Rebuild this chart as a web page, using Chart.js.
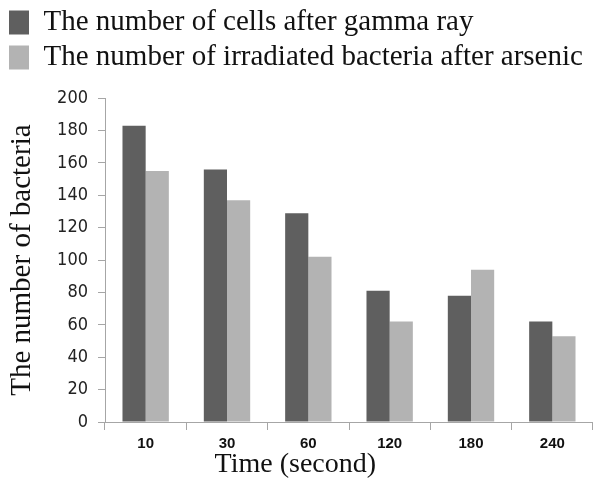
<!DOCTYPE html>
<html>
<head>
<meta charset="utf-8">
<script src="https://cdn.jsdelivr.net/npm/chart.js@4"></script>
<style>
  html, body { margin: 0; padding: 0; background: #ffffff; }
  #wrap { width: 593px; height: 479px; }
</style>
</head>
<body>
<div id="wrap"><canvas id="c" width="593" height="479"></canvas></div>
<script>
const categories = ['10', '30', '60', '120', '180', '240'];
const seriesNames = ['The number of cells after gamma ray', 'The number of irradiated bacteria after arsenic'];
const gammaValues = [183, 156, 129, 81, 78, 62];
const arsenicValues = [155, 137, 102, 62, 94, 53];
const yTicks = [0, 20, 40, 60, 80, 100, 120, 140, 160, 180, 200];
const xTitle = 'Time (second)';
const yTitle = 'The number of bacteria';

const serif = '"Liberation Serif", "Times New Roman", serif';
const sans = '"Liberation Sans Narrow", "DejaVu Sans Condensed", "Liberation Sans", sans-serif';

const xTitlePlugin = {
  id: 'xTitlePlugin',
  afterDraw(chart) {
    const ctx = chart.ctx;
    const a = chart.chartArea;
    ctx.save();
    ctx.font = '28px ' + serif;
    ctx.fillStyle = '#111';
    ctx.textAlign = 'center';
    ctx.textBaseline = 'middle';
    ctx.fillText(xTitle, a.left + (a.right - a.left) * 0.39, 465);
    ctx.restore();
  }
};

new Chart(document.getElementById('c'), {
  type: 'bar',
  data: {
    labels: categories,
    datasets: [
      { label: seriesNames[0], data: gammaValues, backgroundColor: '#5f5f5f', borderWidth: 0 },
      { label: seriesNames[1], data: arsenicValues, backgroundColor: '#b3b3b3', borderWidth: 0 }
    ]
  },
  plugins: [xTitlePlugin],
  options: {
    responsive: false,
    animation: false,
    layout: { padding: { left: 3, right: 0, top: 2, bottom: 0 } },
    datasets: { bar: { categoryPercentage: 0.57, barPercentage: 1.0 } },
    plugins: {
      tooltip: { enabled: false },
      legend: {
        position: 'top',
        align: 'start',
        labels: {
          font: { family: serif, size: 29 },
          color: '#111',
          boxWidth: 20,
          boxHeight: 24,
          padding: 6
        }
      },
      subtitle: {
        display: true,
        text: '',
        weight: 500,
        font: { size: 1 },
        padding: { top: 0, bottom: 15 }
      }
    },
    scales: {
      x: {
        grid: { display: true, offset: true, drawOnChartArea: false, color: '#a6a6a6', tickLength: 8 },
        border: { color: '#a6a6a6' },
        ticks: { font: { family: '"Liberation Sans", sans-serif', size: 15, weight: 'bold' }, color: '#111', padding: 5 },
        afterFit(scale) { scale.height = 57; }
      },
      y: {
        min: 0,
        max: 200,
        afterBuildTicks(scale) { scale.ticks = yTicks.map(v => ({ value: v })); },
        grid: { display: true, drawOnChartArea: false, color: '#a6a6a6', tickLength: 7 },
        border: { color: '#a6a6a6' },
        ticks: { font: { family: sans, size: 18 }, color: '#222', padding: 10 },
        title: {
          display: true,
          text: yTitle,
          font: { family: serif, size: 29 },
          color: '#111',
          padding: { top: 2, bottom: 0 }
        },
        afterFit(scale) { scale.width = 102; }
      }
    }
  }
});
</script>
</body>
</html>
